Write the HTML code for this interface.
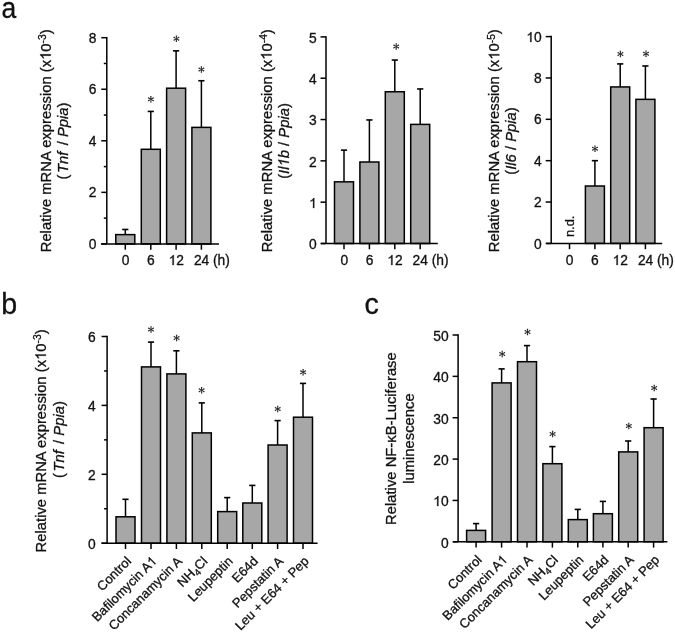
<!DOCTYPE html>
<html><head><meta charset="utf-8"><style>
html,body{margin:0;padding:0;background:#fff;}
svg{display:block;will-change:transform;font-family:"Liberation Sans",sans-serif;}
text{fill:#111;stroke:#111;stroke-width:0.3px;}
.one{fill-opacity:0;stroke-opacity:0;}
</style></head><body>
<svg width="675" height="634" viewBox="0 0 675 634">
<rect width="675" height="634" fill="#fff"/>
<line x1="106.80" y1="243.90" x2="106.80" y2="36.95" stroke="#000" stroke-width="1.5"/>
<line x1="101.30" y1="243.90" x2="106.80" y2="243.90" stroke="#000" stroke-width="1.5"/>
<text x="96.50" y="248.80" text-anchor="end" font-size="13.8" >0</text>
<line x1="101.30" y1="192.35" x2="106.80" y2="192.35" stroke="#000" stroke-width="1.5"/>
<text x="96.50" y="197.25" text-anchor="end" font-size="13.8" >2</text>
<line x1="101.30" y1="140.80" x2="106.80" y2="140.80" stroke="#000" stroke-width="1.5"/>
<text x="96.50" y="145.70" text-anchor="end" font-size="13.8" >4</text>
<line x1="101.30" y1="89.25" x2="106.80" y2="89.25" stroke="#000" stroke-width="1.5"/>
<text x="96.50" y="94.15" text-anchor="end" font-size="13.8" >6</text>
<line x1="101.30" y1="37.70" x2="106.80" y2="37.70" stroke="#000" stroke-width="1.5"/>
<text x="96.50" y="42.60" text-anchor="end" font-size="13.8" >8</text>
<line x1="103.80" y1="218.12" x2="106.80" y2="218.12" stroke="#000" stroke-width="1.5"/>
<line x1="103.80" y1="166.58" x2="106.80" y2="166.58" stroke="#000" stroke-width="1.5"/>
<line x1="103.80" y1="115.03" x2="106.80" y2="115.03" stroke="#000" stroke-width="1.5"/>
<line x1="103.80" y1="63.48" x2="106.80" y2="63.48" stroke="#000" stroke-width="1.5"/>
<line x1="125.30" y1="234.61" x2="125.30" y2="229.47" stroke="#000" stroke-width="1.5"/>
<line x1="122.20" y1="229.47" x2="128.40" y2="229.47" stroke="#000" stroke-width="1.6"/>
<rect x="115.80" y="234.61" width="19.00" height="9.29" fill="#a7a7a7" stroke="#000" stroke-width="1.5"/>
<line x1="150.80" y1="149.29" x2="150.80" y2="111.42" stroke="#000" stroke-width="1.5"/>
<line x1="147.70" y1="111.42" x2="153.90" y2="111.42" stroke="#000" stroke-width="1.6"/>
<rect x="141.30" y="149.29" width="19.00" height="94.61" fill="#a7a7a7" stroke="#000" stroke-width="1.5"/>
<path d="M151.20,99.30 L151.62,96.05 L150.18,96.05 L150.60,99.30Z M151.05,99.56 L154.07,98.30 L153.35,97.05 L150.75,99.04Z M150.75,99.56 L153.35,101.55 L154.07,100.30 L151.05,99.04Z M150.60,99.30 L150.18,102.55 L151.62,102.55 L151.20,99.30Z M150.75,99.04 L147.73,100.30 L148.45,101.55 L151.05,99.56Z M151.05,99.04 L148.45,97.05 L147.73,98.30 L150.75,99.56Z " fill="#2a2a2a"/>
<line x1="176.10" y1="88.20" x2="176.10" y2="50.85" stroke="#000" stroke-width="1.5"/>
<line x1="173.00" y1="50.85" x2="179.20" y2="50.85" stroke="#000" stroke-width="1.6"/>
<rect x="166.60" y="88.20" width="19.00" height="155.70" fill="#a7a7a7" stroke="#000" stroke-width="1.5"/>
<path d="M176.70,38.80 L177.12,35.55 L175.68,35.55 L176.10,38.80Z M176.55,39.06 L179.57,37.80 L178.85,36.55 L176.25,38.54Z M176.25,39.06 L178.85,41.05 L179.57,39.80 L176.55,38.54Z M176.10,38.80 L175.68,42.05 L177.12,42.05 L176.70,38.80Z M176.25,38.54 L173.23,39.80 L173.95,41.05 L176.55,39.06Z M176.55,38.54 L173.95,36.55 L173.23,37.80 L176.25,39.06Z " fill="#2a2a2a"/>
<line x1="201.40" y1="127.38" x2="201.40" y2="80.74" stroke="#000" stroke-width="1.5"/>
<line x1="198.30" y1="80.74" x2="204.50" y2="80.74" stroke="#000" stroke-width="1.6"/>
<rect x="191.90" y="127.38" width="19.00" height="116.52" fill="#a7a7a7" stroke="#000" stroke-width="1.5"/>
<path d="M201.70,69.60 L202.12,66.35 L200.68,66.35 L201.10,69.60Z M201.55,69.86 L204.57,68.60 L203.85,67.35 L201.25,69.34Z M201.25,69.86 L203.85,71.85 L204.57,70.60 L201.55,69.34Z M201.10,69.60 L200.68,72.85 L202.12,72.85 L201.70,69.60Z M201.25,69.34 L198.23,70.60 L198.95,71.85 L201.55,69.86Z M201.55,69.34 L198.95,67.35 L198.23,68.60 L201.25,69.86Z " fill="#2a2a2a"/>
<line x1="101.00" y1="243.90" x2="219.00" y2="243.90" stroke="#000" stroke-width="1.5"/>
<line x1="125.30" y1="243.90" x2="125.30" y2="249.70" stroke="#000" stroke-width="1.5"/>
<line x1="150.80" y1="243.90" x2="150.80" y2="249.70" stroke="#000" stroke-width="1.5"/>
<line x1="176.10" y1="243.90" x2="176.10" y2="249.70" stroke="#000" stroke-width="1.5"/>
<line x1="201.40" y1="243.90" x2="201.40" y2="249.70" stroke="#000" stroke-width="1.5"/>
<line x1="326.00" y1="243.50" x2="326.00" y2="36.15" stroke="#000" stroke-width="1.5"/>
<line x1="320.50" y1="243.50" x2="326.00" y2="243.50" stroke="#000" stroke-width="1.5"/>
<text x="316.80" y="249.20" text-anchor="end" font-size="13.8" >0</text>
<line x1="320.50" y1="202.18" x2="326.00" y2="202.18" stroke="#000" stroke-width="1.5"/>
<text x="316.80" y="207.88" text-anchor="end" font-size="13.8" ><tspan class="one">1</tspan></text>
<line x1="320.50" y1="160.86" x2="326.00" y2="160.86" stroke="#000" stroke-width="1.5"/>
<text x="316.80" y="166.56" text-anchor="end" font-size="13.8" >2</text>
<line x1="320.50" y1="119.54" x2="326.00" y2="119.54" stroke="#000" stroke-width="1.5"/>
<text x="316.80" y="125.24" text-anchor="end" font-size="13.8" >3</text>
<line x1="320.50" y1="78.22" x2="326.00" y2="78.22" stroke="#000" stroke-width="1.5"/>
<text x="316.80" y="83.92" text-anchor="end" font-size="13.8" >4</text>
<line x1="320.50" y1="36.90" x2="326.00" y2="36.90" stroke="#000" stroke-width="1.5"/>
<text x="316.80" y="42.60" text-anchor="end" font-size="13.8" >5</text>
<line x1="344.00" y1="181.83" x2="344.00" y2="150.12" stroke="#000" stroke-width="1.5"/>
<line x1="340.90" y1="150.12" x2="347.10" y2="150.12" stroke="#000" stroke-width="1.6"/>
<rect x="334.50" y="181.83" width="19.00" height="61.67" fill="#a7a7a7" stroke="#000" stroke-width="1.5"/>
<line x1="369.40" y1="162.00" x2="369.40" y2="119.95" stroke="#000" stroke-width="1.5"/>
<line x1="366.30" y1="119.95" x2="372.50" y2="119.95" stroke="#000" stroke-width="1.6"/>
<rect x="359.90" y="162.00" width="19.00" height="81.50" fill="#a7a7a7" stroke="#000" stroke-width="1.5"/>
<line x1="394.80" y1="91.76" x2="394.80" y2="60.04" stroke="#000" stroke-width="1.5"/>
<line x1="391.70" y1="60.04" x2="397.90" y2="60.04" stroke="#000" stroke-width="1.6"/>
<rect x="385.30" y="91.76" width="19.00" height="151.74" fill="#a7a7a7" stroke="#000" stroke-width="1.5"/>
<path d="M396.50,46.60 L396.92,43.35 L395.48,43.35 L395.90,46.60Z M396.35,46.86 L399.37,45.60 L398.65,44.35 L396.05,46.34Z M396.05,46.86 L398.65,48.85 L399.37,47.60 L396.35,46.34Z M395.90,46.60 L395.48,49.85 L396.92,49.85 L396.50,46.60Z M396.05,46.34 L393.03,47.60 L393.75,48.85 L396.35,46.86Z M396.35,46.34 L393.75,44.35 L393.03,45.60 L396.05,46.86Z " fill="#2a2a2a"/>
<line x1="420.20" y1="124.40" x2="420.20" y2="88.96" stroke="#000" stroke-width="1.5"/>
<line x1="417.10" y1="88.96" x2="423.30" y2="88.96" stroke="#000" stroke-width="1.6"/>
<rect x="410.70" y="124.40" width="19.00" height="119.10" fill="#a7a7a7" stroke="#000" stroke-width="1.5"/>
<line x1="321.00" y1="243.50" x2="437.80" y2="243.50" stroke="#000" stroke-width="1.5"/>
<line x1="344.00" y1="243.50" x2="344.00" y2="249.30" stroke="#000" stroke-width="1.5"/>
<line x1="369.40" y1="243.50" x2="369.40" y2="249.30" stroke="#000" stroke-width="1.5"/>
<line x1="394.80" y1="243.50" x2="394.80" y2="249.30" stroke="#000" stroke-width="1.5"/>
<line x1="420.20" y1="243.50" x2="420.20" y2="249.30" stroke="#000" stroke-width="1.5"/>
<line x1="551.20" y1="243.40" x2="551.20" y2="35.85" stroke="#000" stroke-width="1.5"/>
<line x1="545.70" y1="243.40" x2="551.20" y2="243.40" stroke="#000" stroke-width="1.5"/>
<text x="541.70" y="248.50" text-anchor="end" font-size="13.8" >0</text>
<line x1="545.70" y1="202.04" x2="551.20" y2="202.04" stroke="#000" stroke-width="1.5"/>
<text x="541.70" y="207.14" text-anchor="end" font-size="13.8" >2</text>
<line x1="545.70" y1="160.68" x2="551.20" y2="160.68" stroke="#000" stroke-width="1.5"/>
<text x="541.70" y="165.78" text-anchor="end" font-size="13.8" >4</text>
<line x1="545.70" y1="119.32" x2="551.20" y2="119.32" stroke="#000" stroke-width="1.5"/>
<text x="541.70" y="124.42" text-anchor="end" font-size="13.8" >6</text>
<line x1="545.70" y1="77.96" x2="551.20" y2="77.96" stroke="#000" stroke-width="1.5"/>
<text x="541.70" y="83.06" text-anchor="end" font-size="13.8" >8</text>
<line x1="545.70" y1="36.60" x2="551.20" y2="36.60" stroke="#000" stroke-width="1.5"/>
<text x="541.70" y="41.70" text-anchor="end" font-size="13.8" ><tspan class="one">1</tspan>0</text>
<line x1="594.90" y1="186.00" x2="594.90" y2="160.68" stroke="#000" stroke-width="1.5"/>
<line x1="591.80" y1="160.68" x2="598.00" y2="160.68" stroke="#000" stroke-width="1.6"/>
<rect x="585.40" y="186.00" width="19.00" height="57.40" fill="#a7a7a7" stroke="#000" stroke-width="1.5"/>
<path d="M595.30,148.80 L595.72,145.55 L594.28,145.55 L594.70,148.80Z M595.15,149.06 L598.17,147.80 L597.45,146.55 L594.85,148.54Z M594.85,149.06 L597.45,151.05 L598.17,149.80 L595.15,148.54Z M594.70,148.80 L594.28,152.05 L595.72,152.05 L595.30,148.80Z M594.85,148.54 L591.83,149.80 L592.55,151.05 L595.15,149.06Z M595.15,148.54 L592.55,146.55 L591.83,147.80 L594.85,149.06Z " fill="#2a2a2a"/>
<line x1="620.20" y1="86.94" x2="620.20" y2="63.90" stroke="#000" stroke-width="1.5"/>
<line x1="617.10" y1="63.90" x2="623.30" y2="63.90" stroke="#000" stroke-width="1.6"/>
<rect x="610.70" y="86.94" width="19.00" height="156.46" fill="#a7a7a7" stroke="#000" stroke-width="1.5"/>
<path d="M620.70,54.10 L621.12,50.85 L619.68,50.85 L620.10,54.10Z M620.55,54.36 L623.57,53.10 L622.85,51.85 L620.25,53.84Z M620.25,54.36 L622.85,56.35 L623.57,55.10 L620.55,53.84Z M620.10,54.10 L619.68,57.35 L621.12,57.35 L620.70,54.10Z M620.25,53.84 L617.23,55.10 L617.95,56.35 L620.55,54.36Z M620.55,53.84 L617.95,51.85 L617.23,53.10 L620.25,54.36Z " fill="#2a2a2a"/>
<line x1="645.40" y1="99.35" x2="645.40" y2="65.97" stroke="#000" stroke-width="1.5"/>
<line x1="642.30" y1="65.97" x2="648.50" y2="65.97" stroke="#000" stroke-width="1.6"/>
<rect x="635.90" y="99.35" width="19.00" height="144.05" fill="#a7a7a7" stroke="#000" stroke-width="1.5"/>
<path d="M646.30,53.70 L646.72,50.45 L645.28,50.45 L645.70,53.70Z M646.15,53.96 L649.17,52.70 L648.45,51.45 L645.85,53.44Z M645.85,53.96 L648.45,55.95 L649.17,54.70 L646.15,53.44Z M645.70,53.70 L645.28,56.95 L646.72,56.95 L646.30,53.70Z M645.85,53.44 L642.83,54.70 L643.55,55.95 L646.15,53.96Z M646.15,53.44 L643.55,51.45 L642.83,52.70 L645.85,53.96Z " fill="#2a2a2a"/>
<line x1="546.20" y1="243.40" x2="662.20" y2="243.40" stroke="#000" stroke-width="1.5"/>
<line x1="569.50" y1="243.40" x2="569.50" y2="249.20" stroke="#000" stroke-width="1.5"/>
<line x1="594.90" y1="243.40" x2="594.90" y2="249.20" stroke="#000" stroke-width="1.5"/>
<line x1="620.20" y1="243.40" x2="620.20" y2="249.20" stroke="#000" stroke-width="1.5"/>
<line x1="645.40" y1="243.40" x2="645.40" y2="249.20" stroke="#000" stroke-width="1.5"/>
<text x="125.60" y="265.40" text-anchor="middle" font-size="13.8" >0</text>
<text x="150.90" y="265.40" text-anchor="middle" font-size="13.8" >6</text>
<text x="176.30" y="265.40" text-anchor="middle" font-size="13.8" ><tspan class="one">1</tspan>2</text>
<text x="201.60" y="265.40" text-anchor="middle" font-size="13.8" >24</text>
<text x="213.00" y="265.40" text-anchor="start" font-size="13.8" >(h)</text>
<text x="344.30" y="265.40" text-anchor="middle" font-size="13.8" >0</text>
<text x="369.60" y="265.40" text-anchor="middle" font-size="13.8" >6</text>
<text x="395.00" y="265.40" text-anchor="middle" font-size="13.8" ><tspan class="one">1</tspan>2</text>
<text x="420.30" y="265.40" text-anchor="middle" font-size="13.8" >24</text>
<text x="431.70" y="265.40" text-anchor="start" font-size="13.8" >(h)</text>
<text x="569.60" y="265.40" text-anchor="middle" font-size="13.8" >0</text>
<text x="594.90" y="265.40" text-anchor="middle" font-size="13.8" >6</text>
<text x="620.30" y="265.40" text-anchor="middle" font-size="13.8" ><tspan class="one">1</tspan>2</text>
<text x="645.60" y="265.40" text-anchor="middle" font-size="13.8" >24</text>
<text x="657.00" y="265.40" text-anchor="start" font-size="13.8" >(h)</text>
<line x1="107.10" y1="543.20" x2="107.10" y2="335.75" stroke="#000" stroke-width="1.5"/>
<line x1="101.60" y1="543.20" x2="107.10" y2="543.20" stroke="#000" stroke-width="1.5"/>
<text x="95.80" y="548.50" text-anchor="end" font-size="13.8" >0</text>
<line x1="101.60" y1="474.30" x2="107.10" y2="474.30" stroke="#000" stroke-width="1.5"/>
<text x="95.80" y="479.60" text-anchor="end" font-size="13.8" >2</text>
<line x1="101.60" y1="405.40" x2="107.10" y2="405.40" stroke="#000" stroke-width="1.5"/>
<text x="95.80" y="410.70" text-anchor="end" font-size="13.8" >4</text>
<line x1="101.60" y1="336.50" x2="107.10" y2="336.50" stroke="#000" stroke-width="1.5"/>
<text x="95.80" y="341.80" text-anchor="end" font-size="13.8" >6</text>
<line x1="104.10" y1="508.75" x2="107.10" y2="508.75" stroke="#000" stroke-width="1.5"/>
<line x1="104.10" y1="439.85" x2="107.10" y2="439.85" stroke="#000" stroke-width="1.5"/>
<line x1="104.10" y1="370.95" x2="107.10" y2="370.95" stroke="#000" stroke-width="1.5"/>
<line x1="125.50" y1="516.80" x2="125.50" y2="499.30" stroke="#000" stroke-width="1.5"/>
<line x1="122.40" y1="499.30" x2="128.60" y2="499.30" stroke="#000" stroke-width="1.6"/>
<rect x="116.00" y="516.80" width="19.00" height="26.40" fill="#a7a7a7" stroke="#000" stroke-width="1.5"/>
<line x1="151.00" y1="366.90" x2="151.00" y2="342.10" stroke="#000" stroke-width="1.5"/>
<line x1="147.90" y1="342.10" x2="154.10" y2="342.10" stroke="#000" stroke-width="1.6"/>
<rect x="141.50" y="366.90" width="19.00" height="176.30" fill="#a7a7a7" stroke="#000" stroke-width="1.5"/>
<path d="M151.30,329.50 L151.72,326.25 L150.28,326.25 L150.70,329.50Z M151.15,329.76 L154.17,328.50 L153.45,327.25 L150.85,329.24Z M150.85,329.76 L153.45,331.75 L154.17,330.50 L151.15,329.24Z M150.70,329.50 L150.28,332.75 L151.72,332.75 L151.30,329.50Z M150.85,329.24 L147.83,330.50 L148.55,331.75 L151.15,329.76Z M151.15,329.24 L148.55,327.25 L147.83,328.50 L150.85,329.76Z " fill="#2a2a2a"/>
<line x1="176.40" y1="373.90" x2="176.40" y2="350.80" stroke="#000" stroke-width="1.5"/>
<line x1="173.30" y1="350.80" x2="179.50" y2="350.80" stroke="#000" stroke-width="1.6"/>
<rect x="166.90" y="373.90" width="19.00" height="169.30" fill="#a7a7a7" stroke="#000" stroke-width="1.5"/>
<path d="M176.90,338.10 L177.32,334.85 L175.88,334.85 L176.30,338.10Z M176.75,338.36 L179.77,337.10 L179.05,335.85 L176.45,337.84Z M176.45,338.36 L179.05,340.35 L179.77,339.10 L176.75,337.84Z M176.30,338.10 L175.88,341.35 L177.32,341.35 L176.90,338.10Z M176.45,337.84 L173.43,339.10 L174.15,340.35 L176.75,338.36Z M176.75,337.84 L174.15,335.85 L173.43,337.10 L176.45,338.36Z " fill="#2a2a2a"/>
<line x1="201.80" y1="432.90" x2="201.80" y2="402.90" stroke="#000" stroke-width="1.5"/>
<line x1="198.70" y1="402.90" x2="204.90" y2="402.90" stroke="#000" stroke-width="1.6"/>
<rect x="192.30" y="432.90" width="19.00" height="110.30" fill="#a7a7a7" stroke="#000" stroke-width="1.5"/>
<path d="M201.90,390.20 L202.32,386.95 L200.88,386.95 L201.30,390.20Z M201.75,390.46 L204.77,389.20 L204.05,387.95 L201.45,389.94Z M201.45,390.46 L204.05,392.45 L204.77,391.20 L201.75,389.94Z M201.30,390.20 L200.88,393.45 L202.32,393.45 L201.90,390.20Z M201.45,389.94 L198.43,391.20 L199.15,392.45 L201.75,390.46Z M201.75,389.94 L199.15,387.95 L198.43,389.20 L201.45,390.46Z " fill="#2a2a2a"/>
<line x1="227.20" y1="511.60" x2="227.20" y2="497.60" stroke="#000" stroke-width="1.5"/>
<line x1="224.10" y1="497.60" x2="230.30" y2="497.60" stroke="#000" stroke-width="1.6"/>
<rect x="217.70" y="511.60" width="19.00" height="31.60" fill="#a7a7a7" stroke="#000" stroke-width="1.5"/>
<line x1="252.30" y1="503.00" x2="252.30" y2="485.40" stroke="#000" stroke-width="1.5"/>
<line x1="249.20" y1="485.40" x2="255.40" y2="485.40" stroke="#000" stroke-width="1.6"/>
<rect x="242.80" y="503.00" width="19.00" height="40.20" fill="#a7a7a7" stroke="#000" stroke-width="1.5"/>
<line x1="277.60" y1="445.00" x2="277.60" y2="420.60" stroke="#000" stroke-width="1.5"/>
<line x1="274.50" y1="420.60" x2="280.70" y2="420.60" stroke="#000" stroke-width="1.6"/>
<rect x="268.10" y="445.00" width="19.00" height="98.20" fill="#a7a7a7" stroke="#000" stroke-width="1.5"/>
<path d="M278.00,408.90 L278.42,405.65 L276.98,405.65 L277.40,408.90Z M277.85,409.16 L280.87,407.90 L280.15,406.65 L277.55,408.64Z M277.55,409.16 L280.15,411.15 L280.87,409.90 L277.85,408.64Z M277.40,408.90 L276.98,412.15 L278.42,412.15 L278.00,408.90Z M277.55,408.64 L274.53,409.90 L275.25,411.15 L277.85,409.16Z M277.85,408.64 L275.25,406.65 L274.53,407.90 L277.55,409.16Z " fill="#2a2a2a"/>
<line x1="303.00" y1="417.20" x2="303.00" y2="383.40" stroke="#000" stroke-width="1.5"/>
<line x1="299.90" y1="383.40" x2="306.10" y2="383.40" stroke="#000" stroke-width="1.6"/>
<rect x="293.50" y="417.20" width="19.00" height="126.00" fill="#a7a7a7" stroke="#000" stroke-width="1.5"/>
<path d="M303.40,372.30 L303.82,369.05 L302.38,369.05 L302.80,372.30Z M303.25,372.56 L306.27,371.30 L305.55,370.05 L302.95,372.04Z M302.95,372.56 L305.55,374.55 L306.27,373.30 L303.25,372.04Z M302.80,372.30 L302.38,375.55 L303.82,375.55 L303.40,372.30Z M302.95,372.04 L299.93,373.30 L300.65,374.55 L303.25,372.56Z M303.25,372.04 L300.65,370.05 L299.93,371.30 L302.95,372.56Z " fill="#2a2a2a"/>
<line x1="101.50" y1="543.20" x2="317.60" y2="543.20" stroke="#000" stroke-width="1.5"/>
<line x1="125.50" y1="543.20" x2="125.50" y2="549.00" stroke="#000" stroke-width="1.5"/>
<line x1="151.00" y1="543.20" x2="151.00" y2="549.00" stroke="#000" stroke-width="1.5"/>
<line x1="176.40" y1="543.20" x2="176.40" y2="549.00" stroke="#000" stroke-width="1.5"/>
<line x1="201.80" y1="543.20" x2="201.80" y2="549.00" stroke="#000" stroke-width="1.5"/>
<line x1="227.20" y1="543.20" x2="227.20" y2="549.00" stroke="#000" stroke-width="1.5"/>
<line x1="252.30" y1="543.20" x2="252.30" y2="549.00" stroke="#000" stroke-width="1.5"/>
<line x1="277.60" y1="543.20" x2="277.60" y2="549.00" stroke="#000" stroke-width="1.5"/>
<line x1="303.00" y1="543.20" x2="303.00" y2="549.00" stroke="#000" stroke-width="1.5"/>
<line x1="458.10" y1="541.80" x2="458.10" y2="334.25" stroke="#000" stroke-width="1.5"/>
<line x1="452.60" y1="541.80" x2="458.10" y2="541.80" stroke="#000" stroke-width="1.5"/>
<text x="448.60" y="547.70" text-anchor="end" font-size="13.8" >0</text>
<line x1="452.60" y1="500.44" x2="458.10" y2="500.44" stroke="#000" stroke-width="1.5"/>
<text x="448.60" y="506.34" text-anchor="end" font-size="13.8" ><tspan class="one">1</tspan>0</text>
<line x1="452.60" y1="459.08" x2="458.10" y2="459.08" stroke="#000" stroke-width="1.5"/>
<text x="448.60" y="464.98" text-anchor="end" font-size="13.8" >20</text>
<line x1="452.60" y1="417.72" x2="458.10" y2="417.72" stroke="#000" stroke-width="1.5"/>
<text x="448.60" y="423.62" text-anchor="end" font-size="13.8" >30</text>
<line x1="452.60" y1="376.36" x2="458.10" y2="376.36" stroke="#000" stroke-width="1.5"/>
<text x="448.60" y="382.26" text-anchor="end" font-size="13.8" >40</text>
<line x1="452.60" y1="335.00" x2="458.10" y2="335.00" stroke="#000" stroke-width="1.5"/>
<text x="448.60" y="340.90" text-anchor="end" font-size="13.8" >50</text>
<line x1="476.10" y1="530.40" x2="476.10" y2="523.60" stroke="#000" stroke-width="1.5"/>
<line x1="473.00" y1="523.60" x2="479.20" y2="523.60" stroke="#000" stroke-width="1.6"/>
<rect x="466.60" y="530.40" width="19.00" height="11.40" fill="#a7a7a7" stroke="#000" stroke-width="1.5"/>
<line x1="501.60" y1="382.90" x2="501.60" y2="368.90" stroke="#000" stroke-width="1.5"/>
<line x1="498.50" y1="368.90" x2="504.70" y2="368.90" stroke="#000" stroke-width="1.6"/>
<rect x="492.10" y="382.90" width="19.00" height="158.90" fill="#a7a7a7" stroke="#000" stroke-width="1.5"/>
<path d="M502.50,354.00 L502.92,350.75 L501.48,350.75 L501.90,354.00Z M502.35,354.26 L505.37,353.00 L504.65,351.75 L502.05,353.74Z M502.05,354.26 L504.65,356.25 L505.37,355.00 L502.35,353.74Z M501.90,354.00 L501.48,357.25 L502.92,357.25 L502.50,354.00Z M502.05,353.74 L499.03,355.00 L499.75,356.25 L502.35,354.26Z M502.35,353.74 L499.75,351.75 L499.03,353.00 L502.05,354.26Z " fill="#2a2a2a"/>
<line x1="527.00" y1="361.70" x2="527.00" y2="345.60" stroke="#000" stroke-width="1.5"/>
<line x1="523.90" y1="345.60" x2="530.10" y2="345.60" stroke="#000" stroke-width="1.6"/>
<rect x="517.50" y="361.70" width="19.00" height="180.10" fill="#a7a7a7" stroke="#000" stroke-width="1.5"/>
<path d="M527.80,332.00 L528.22,328.75 L526.78,328.75 L527.20,332.00Z M527.65,332.26 L530.67,331.00 L529.95,329.75 L527.35,331.74Z M527.35,332.26 L529.95,334.25 L530.67,333.00 L527.65,331.74Z M527.20,332.00 L526.78,335.25 L528.22,335.25 L527.80,332.00Z M527.35,331.74 L524.33,333.00 L525.05,334.25 L527.65,332.26Z M527.65,331.74 L525.05,329.75 L524.33,331.00 L527.35,332.26Z " fill="#2a2a2a"/>
<line x1="552.40" y1="463.70" x2="552.40" y2="446.60" stroke="#000" stroke-width="1.5"/>
<line x1="549.30" y1="446.60" x2="555.50" y2="446.60" stroke="#000" stroke-width="1.6"/>
<rect x="542.90" y="463.70" width="19.00" height="78.10" fill="#a7a7a7" stroke="#000" stroke-width="1.5"/>
<path d="M552.90,433.90 L553.32,430.65 L551.88,430.65 L552.30,433.90Z M552.75,434.16 L555.77,432.90 L555.05,431.65 L552.45,433.64Z M552.45,434.16 L555.05,436.15 L555.77,434.90 L552.75,433.64Z M552.30,433.90 L551.88,437.15 L553.32,437.15 L552.90,433.90Z M552.45,433.64 L549.43,434.90 L550.15,436.15 L552.75,434.16Z M552.75,433.64 L550.15,431.65 L549.43,432.90 L552.45,434.16Z " fill="#2a2a2a"/>
<line x1="577.80" y1="519.60" x2="577.80" y2="509.40" stroke="#000" stroke-width="1.5"/>
<line x1="574.70" y1="509.40" x2="580.90" y2="509.40" stroke="#000" stroke-width="1.6"/>
<rect x="568.30" y="519.60" width="19.00" height="22.20" fill="#a7a7a7" stroke="#000" stroke-width="1.5"/>
<line x1="602.90" y1="513.70" x2="602.90" y2="501.40" stroke="#000" stroke-width="1.5"/>
<line x1="599.80" y1="501.40" x2="606.00" y2="501.40" stroke="#000" stroke-width="1.6"/>
<rect x="593.40" y="513.70" width="19.00" height="28.10" fill="#a7a7a7" stroke="#000" stroke-width="1.5"/>
<line x1="628.20" y1="451.90" x2="628.20" y2="441.00" stroke="#000" stroke-width="1.5"/>
<line x1="625.10" y1="441.00" x2="631.30" y2="441.00" stroke="#000" stroke-width="1.6"/>
<rect x="618.70" y="451.90" width="19.00" height="89.90" fill="#a7a7a7" stroke="#000" stroke-width="1.5"/>
<path d="M629.10,426.00 L629.52,422.75 L628.08,422.75 L628.50,426.00Z M628.95,426.26 L631.97,425.00 L631.25,423.75 L628.65,425.74Z M628.65,426.26 L631.25,428.25 L631.97,427.00 L628.95,425.74Z M628.50,426.00 L628.08,429.25 L629.52,429.25 L629.10,426.00Z M628.65,425.74 L625.63,427.00 L626.35,428.25 L628.95,426.26Z M628.95,425.74 L626.35,423.75 L625.63,425.00 L628.65,426.26Z " fill="#2a2a2a"/>
<line x1="653.60" y1="427.70" x2="653.60" y2="399.00" stroke="#000" stroke-width="1.5"/>
<line x1="650.50" y1="399.00" x2="656.70" y2="399.00" stroke="#000" stroke-width="1.6"/>
<rect x="644.10" y="427.70" width="19.00" height="114.10" fill="#a7a7a7" stroke="#000" stroke-width="1.5"/>
<path d="M654.50,388.10 L654.92,384.85 L653.48,384.85 L653.90,388.10Z M654.35,388.36 L657.37,387.10 L656.65,385.85 L654.05,387.84Z M654.05,388.36 L656.65,390.35 L657.37,389.10 L654.35,387.84Z M653.90,388.10 L653.48,391.35 L654.92,391.35 L654.50,388.10Z M654.05,387.84 L651.03,389.10 L651.75,390.35 L654.35,388.36Z M654.35,387.84 L651.75,385.85 L651.03,387.10 L654.05,388.36Z " fill="#2a2a2a"/>
<line x1="453.00" y1="541.80" x2="667.40" y2="541.80" stroke="#000" stroke-width="1.5"/>
<line x1="476.10" y1="541.80" x2="476.10" y2="547.60" stroke="#000" stroke-width="1.5"/>
<line x1="501.60" y1="541.80" x2="501.60" y2="547.60" stroke="#000" stroke-width="1.5"/>
<line x1="527.00" y1="541.80" x2="527.00" y2="547.60" stroke="#000" stroke-width="1.5"/>
<line x1="552.40" y1="541.80" x2="552.40" y2="547.60" stroke="#000" stroke-width="1.5"/>
<line x1="577.80" y1="541.80" x2="577.80" y2="547.60" stroke="#000" stroke-width="1.5"/>
<line x1="602.90" y1="541.80" x2="602.90" y2="547.60" stroke="#000" stroke-width="1.5"/>
<line x1="628.20" y1="541.80" x2="628.20" y2="547.60" stroke="#000" stroke-width="1.5"/>
<line x1="653.60" y1="541.80" x2="653.60" y2="547.60" stroke="#000" stroke-width="1.5"/>
<text transform="translate(132.00,562.00) rotate(-45)" text-anchor="end" font-size="13">Control</text>
<text transform="translate(157.50,562.00) rotate(-45)" text-anchor="end" font-size="13">Bafilomycin A<tspan class="one">1</tspan></text>
<text transform="translate(182.90,562.00) rotate(-45)" text-anchor="end" font-size="13">Concanamycin A</text>
<text transform="translate(208.30,562.00) rotate(-45)" text-anchor="end" font-size="13">NH<tspan font-size="9.5" dy="3">4</tspan><tspan dy="-3">Cl</tspan></text>
<text transform="translate(233.70,562.00) rotate(-45)" text-anchor="end" font-size="13">Leupeptin</text>
<text transform="translate(258.80,562.00) rotate(-45)" text-anchor="end" font-size="13">E64d</text>
<text transform="translate(284.10,562.00) rotate(-45)" text-anchor="end" font-size="13">Pepstatin A</text>
<text transform="translate(309.50,562.00) rotate(-45)" text-anchor="end" font-size="13">Leu + E64 + Pep</text>
<text transform="translate(482.60,560.60) rotate(-45)" text-anchor="end" font-size="13">Control</text>
<text transform="translate(508.10,560.60) rotate(-45)" text-anchor="end" font-size="13">Bafilomycin A<tspan class="one">1</tspan></text>
<text transform="translate(533.50,560.60) rotate(-45)" text-anchor="end" font-size="13">Concanamycin A</text>
<text transform="translate(558.90,560.60) rotate(-45)" text-anchor="end" font-size="13">NH<tspan font-size="9.5" dy="3">4</tspan><tspan dy="-3">Cl</tspan></text>
<text transform="translate(584.30,560.60) rotate(-45)" text-anchor="end" font-size="13">Leupeptin</text>
<text transform="translate(609.40,560.60) rotate(-45)" text-anchor="end" font-size="13">E64d</text>
<text transform="translate(634.70,560.60) rotate(-45)" text-anchor="end" font-size="13">Pepstatin A</text>
<text transform="translate(660.10,560.60) rotate(-45)" text-anchor="end" font-size="13">Leu + E64 + Pep</text>
<text transform="translate(50.80,140.80) rotate(-90)" text-anchor="middle" font-size="14.8">Relative mRNA expression (x<tspan class="one">1</tspan>0<tspan font-size="10.3" dy="-4.6">-3</tspan><tspan dy="4.6">)</tspan></text>
<text transform="translate(67.60,141.00) rotate(-90)" text-anchor="middle" font-size="14.8">(<tspan dx="1.6" font-style="italic">Tnf</tspan><tspan dx="6.2">/ </tspan><tspan font-style="italic">Ppia</tspan>)</text>
<text transform="translate(271.50,140.70) rotate(-90)" text-anchor="middle" font-size="14.8">Relative mRNA expression (x<tspan class="one">1</tspan>0<tspan font-size="10.3" dy="-4.6">-4</tspan><tspan dy="4.6">)</tspan></text>
<text transform="translate(288.80,141.00) rotate(-90)" text-anchor="middle" font-size="14.8">(<tspan font-style="italic">Il<tspan class="one">1</tspan>b</tspan> / <tspan font-style="italic">Ppia</tspan>)</text>
<text transform="translate(499.30,140.70) rotate(-90)" text-anchor="middle" font-size="14.8">Relative mRNA expression (x<tspan class="one">1</tspan>0<tspan font-size="10.3" dy="-4.6">-5</tspan><tspan dy="4.6">)</tspan></text>
<text transform="translate(515.90,141.00) rotate(-90)" text-anchor="middle" font-size="14.8">(<tspan font-style="italic">Il6</tspan> / <tspan font-style="italic">Ppia</tspan>)</text>
<text transform="translate(45.90,440.90) rotate(-90)" text-anchor="middle" font-size="14.8">Relative mRNA expression (x<tspan class="one">1</tspan>0<tspan font-size="10.3" dy="-4.6">-3</tspan><tspan dy="4.6">)</tspan></text>
<text transform="translate(63.50,439.60) rotate(-90)" text-anchor="middle" font-size="14.8">(<tspan dx="1.6" font-style="italic">Tnf</tspan><tspan dx="6.2">/ </tspan><tspan font-style="italic">Ppia</tspan>)</text>
<text transform="translate(396.10,438.60) rotate(-90)" text-anchor="middle" font-size="14.8">Relative NF-κB-Luciferase</text>
<text transform="translate(413.60,438.60) rotate(-90)" text-anchor="middle" font-size="14.8">luminescence</text>
<text transform="translate(573.7,237) rotate(-90)" text-anchor="start" font-size="12.8">n.d.</text>
<text transform="translate(1.5,18.2) scale(0.9,1)" font-size="29.5">a</text>
<text transform="translate(1.2,313.6) scale(0.97,1)" font-size="29.5">b</text>
<text transform="translate(364.4,313.6) scale(0.97,1)" font-size="29.5">c</text>
<path transform=" translate(309.11,208.00) scale(0.00674,-0.00674)" d="M763 0H583V1147Q518 1085 412.5 1023Q307 961 223 930V1104Q374 1175 487 1276Q600 1377 647 1472H763Z" fill="#111" stroke="#111" stroke-width="44.5"/>
<path transform=" translate(526.33,42.00) scale(0.00674,-0.00674)" d="M763 0H583V1147Q518 1085 412.5 1023Q307 961 223 930V1104Q374 1175 487 1276Q600 1377 647 1472H763Z" fill="#111" stroke="#111" stroke-width="44.5"/>
<path transform=" translate(168.61,265.00) scale(0.00674,-0.00674)" d="M763 0H583V1147Q518 1085 412.5 1023Q307 961 223 930V1104Q374 1175 487 1276Q600 1377 647 1472H763Z" fill="#111" stroke="#111" stroke-width="44.5"/>
<path transform=" translate(387.31,265.00) scale(0.00674,-0.00674)" d="M763 0H583V1147Q518 1085 412.5 1023Q307 961 223 930V1104Q374 1175 487 1276Q600 1377 647 1472H763Z" fill="#111" stroke="#111" stroke-width="44.5"/>
<path transform=" translate(612.61,265.00) scale(0.00674,-0.00674)" d="M763 0H583V1147Q518 1085 412.5 1023Q307 961 223 930V1104Q374 1175 487 1276Q600 1377 647 1472H763Z" fill="#111" stroke="#111" stroke-width="44.5"/>
<path transform=" translate(433.23,506.00) scale(0.00674,-0.00674)" d="M763 0H583V1147Q518 1085 412.5 1023Q307 961 223 930V1104Q374 1175 487 1276Q600 1377 647 1472H763Z" fill="#111" stroke="#111" stroke-width="44.5"/>
<path transform="translate(157.50,562.00) rotate(-45) translate(-7.23,0.00) scale(0.00635,-0.00635)" d="M763 0H583V1147Q518 1085 412.5 1023Q307 961 223 930V1104Q374 1175 487 1276Q600 1377 647 1472H763Z" fill="#111" stroke="#111" stroke-width="47.3"/>
<path transform="translate(508.10,560.60) rotate(-45) translate(-7.23,0.00) scale(0.00635,-0.00635)" d="M763 0H583V1147Q518 1085 412.5 1023Q307 961 223 930V1104Q374 1175 487 1276Q600 1377 647 1472H763Z" fill="#111" stroke="#111" stroke-width="47.3"/>
<path transform="translate(50.80,140.80) rotate(-90) translate(80.94,0.00) scale(0.00723,-0.00723)" d="M763 0H583V1147Q518 1085 412.5 1023Q307 961 223 930V1104Q374 1175 487 1276Q600 1377 647 1472H763Z" fill="#111" stroke="#111" stroke-width="41.5"/>
<path transform="translate(271.50,140.70) rotate(-90) translate(80.94,0.00) scale(0.00723,-0.00723)" d="M763 0H583V1147Q518 1085 412.5 1023Q307 961 223 930V1104Q374 1175 487 1276Q600 1377 647 1472H763Z" fill="#111" stroke="#111" stroke-width="41.5"/>
<path transform="translate(288.80,141.00) rotate(-90) translate(-25.52,0.00) scale(0.00723,-0.00723)" d="M660.0 0.0L480.0 0.0L701.4 1147.0Q624.4 1085.0 506.9 1023.0Q389.5 961.0 299.5 930.0L333.1 1104.0Q497.8 1175.0 630.3 1276.0Q762.8 1377.0 828.1 1472.0L944.1 1472.0Z" fill="#111" stroke="#111" stroke-width="41.5"/>
<path transform="translate(499.30,140.70) rotate(-90) translate(80.94,0.00) scale(0.00723,-0.00723)" d="M763 0H583V1147Q518 1085 412.5 1023Q307 961 223 930V1104Q374 1175 487 1276Q600 1377 647 1472H763Z" fill="#111" stroke="#111" stroke-width="41.5"/>
<path transform="translate(45.90,440.90) rotate(-90) translate(80.94,0.00) scale(0.00723,-0.00723)" d="M763 0H583V1147Q518 1085 412.5 1023Q307 961 223 930V1104Q374 1175 487 1276Q600 1377 647 1472H763Z" fill="#111" stroke="#111" stroke-width="41.5"/>
</svg>
</body></html>
